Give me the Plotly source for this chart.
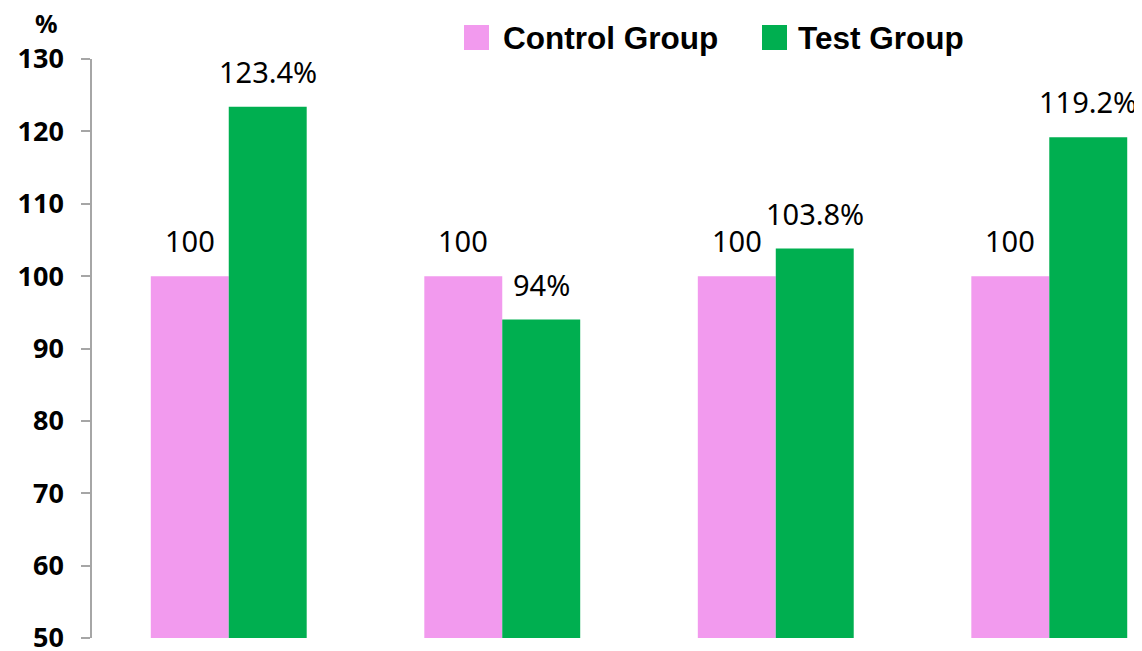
import plotly.graph_objects as go

groups = ["A", "B", "C", "D"]
control = [100, 100, 100, 100]
test = [123.4, 94, 103.8, 119.2]
control_labels = ["100", "100", "100", "100"]
test_labels = ["123.4%", "94%", "103.8%", "119.2%"]
y_ticks = [50, 60, 70, 80, 90, 100, 110, 120, 130]
series_names = ["Control Group", "Test Group"]

pink = "#F29AEE"
green = "#00AF50"

fig = go.Figure()
fig.add_trace(go.Bar(x=list(range(4)), y=control, marker_color=pink, marker_line_width=0,
                     name=series_names[0]))
fig.add_trace(go.Bar(x=list(range(4)), y=test, marker_color=green, marker_line_width=0,
                     name=series_names[1]))

label_font = dict(family="Noto Sans", size=29, color="#000000")
for i in range(4):
    fig.add_annotation(x=i, y=control[i], text=control_labels[i], showarrow=False,
                       xshift=-39, yanchor="bottom", yshift=14, font=label_font)
    fig.add_annotation(x=i, y=test[i], text=test_labels[i], showarrow=False,
                       xshift=39, yanchor="bottom", yshift=14, font=label_font)

# "%" unit above the y axis
fig.add_annotation(xref="paper", yref="paper", x=-0.043, y=1.062, text="<b>%</b>",
                   showarrow=False, xanchor="center", yanchor="middle",
                   font=dict(family="Noto Sans", size=25, color="#000000"))

# legend drawn by hand so the squares can be as big as in the original
leg_font = dict(family="Liberation Sans", size=31.5, color="#000000", weight="bold")
for name, col, sx, tx in [(series_names[0], pink, 0.3543, 0.3895),
                          (series_names[1], green, 0.6381, 0.6705)]:
    fig.add_shape(type="rect", xref="paper", yref="paper", x0=sx, x1=sx + 0.0238,
                  y0=1.0155, y1=1.0587, fillcolor=col, line_width=0)
    fig.add_annotation(xref="paper", yref="paper", x=tx, y=1.0371, text=name,
                       showarrow=False, xanchor="left", yanchor="middle", font=leg_font)

# page body adds 8px margin, so the figure is 8px smaller than the window
fig.update_layout(
    width=1134, height=643,
    margin=dict(l=84, r=0, t=51, b=13, autoexpand=False),
    plot_bgcolor="white", paper_bgcolor="white",
    barmode="group", bargap=0.43, bargroupgap=0,
    showlegend=False,
    xaxis=dict(range=[-0.5, 3.339], showticklabels=False, showline=False,
               showgrid=False, zeroline=False, ticks=""),
    yaxis=dict(range=[50, 130], tickvals=y_ticks, showgrid=False, zeroline=False,
               showline=True, linecolor="#A6A6A6", linewidth=1.5,
               ticks="outside", ticklen=9, tickcolor="#A6A6A6", tickwidth=1.5,
               ticklabelstandoff=12, ticklabeloverflow="allow",
               tickfont=dict(family="Noto Sans", size=27, color="#000000", weight="bold")),
)

fig.write_html("out.html")
